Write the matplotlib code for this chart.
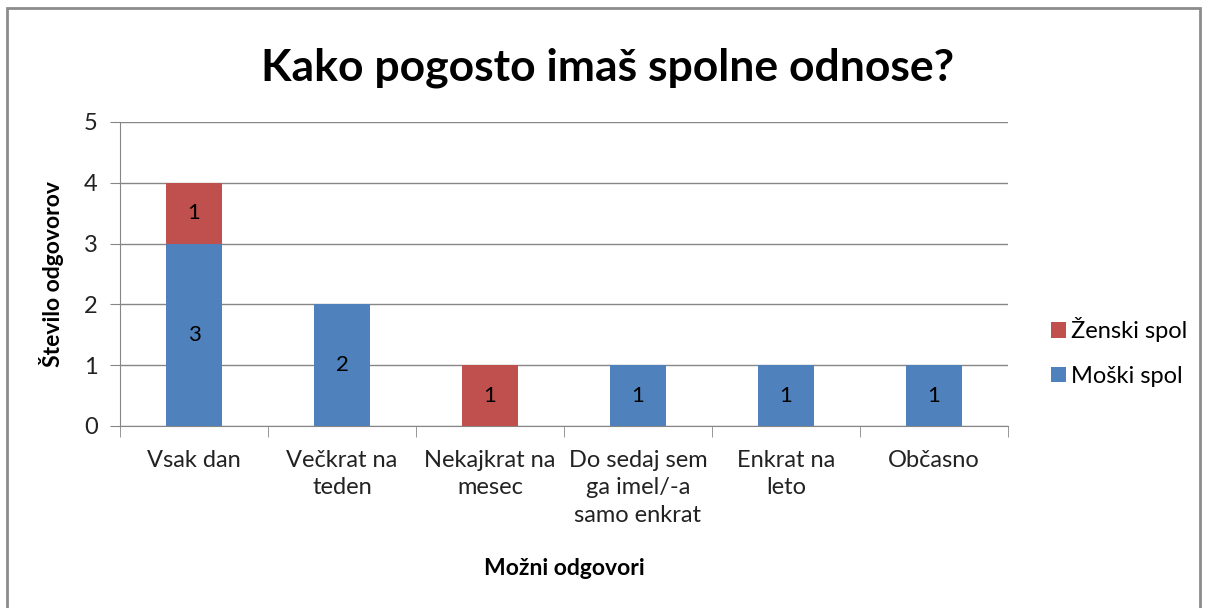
import matplotlib.pyplot as plt
from matplotlib.patches import Rectangle
import numpy as np

categories = ['Vsak dan', 'Večkrat na\nteden', 'Nekajkrat na\nmesec',
              'Do sedaj sem\nga imel/-a\nsamo enkrat', 'Enkrat na\nleto', 'Občasno']
moski = [3, 2, 0, 1, 1, 1]
zenski = [1, 0, 1, 0, 0, 0]

plt.rcParams['font.family'] = ['Lato', 'DejaVu Sans']
blue = '#4F81BD'
red = '#C0504D'
grey = '#868686'

fig = plt.figure(figsize=(12.08, 6.08), dpi=100)
fig.patches.append(Rectangle((7/1208, -0.01), 1193/1208, 1 - 8/608 + 0.01,
                             transform=fig.transFigure, fill=False,
                             edgecolor='#8c8c8c', linewidth=2))
ax = fig.add_axes([120/1208, 1 - 426/608, 888/1208, 304/608])

x = np.arange(len(categories))
w = 0.385
b1 = ax.bar(x, moski, w, color=blue, label='Moški spol', zorder=3)
b2 = ax.bar(x, zenski, w, bottom=moski, color=red, label='Ženski spol', zorder=3)

for i in x:
    if moski[i]:
        ax.text(i, moski[i] / 2, str(moski[i]), ha='center', va='center', fontsize=16)
    if zenski[i]:
        ax.text(i, moski[i] + zenski[i] / 2, str(zenski[i]), ha='center', va='center', fontsize=16)

ax.set_xlim(-0.5, len(categories) - 0.5)
ax.set_ylim(0, 5)
ax.set_yticks(range(6))
ax.yaxis.grid(True, color=grey, linewidth=1, zorder=0)
ax.set_xticks(x)
ax.set_xticklabels(categories, fontsize=17, color='#222222', linespacing=1.4)
ax.set_xticks(np.arange(-0.5, len(categories)), minor=True)
ax.tick_params(axis='x', which='major', length=0, pad=17)
ax.tick_params(axis='x', which='minor', length=8, color=grey, direction='out')
ax.tick_params(axis='y', length=7, color=grey, labelsize=17, labelcolor='#222222', pad=9)
for s in ['top', 'right']:
    ax.spines[s].set_visible(False)
for s in ['left', 'bottom']:
    ax.spines[s].set_color(grey)

ax.set_ylabel('Število odgovorov', fontsize=16.5, fontweight='bold', labelpad=14)
ax.set_xlabel('Možni odgovori', fontsize=16.5, fontweight='bold', labelpad=23)
fig.text(0.503, 1 - 68/608, 'Kako pogosto imaš spolne odnose?', ha='center', va='center',
         fontsize=32, fontweight='bold')

leg = fig.legend(handles=[b2, b1], loc='center left', bbox_to_anchor=(1051/1208, 1 - 352/608),
                 frameon=False, fontsize=17, handlelength=0.65, handleheight=0.65,
                 handletextpad=0.2, labelspacing=1.0, borderaxespad=0, borderpad=0)

fig.savefig('out.png', dpi=100)
